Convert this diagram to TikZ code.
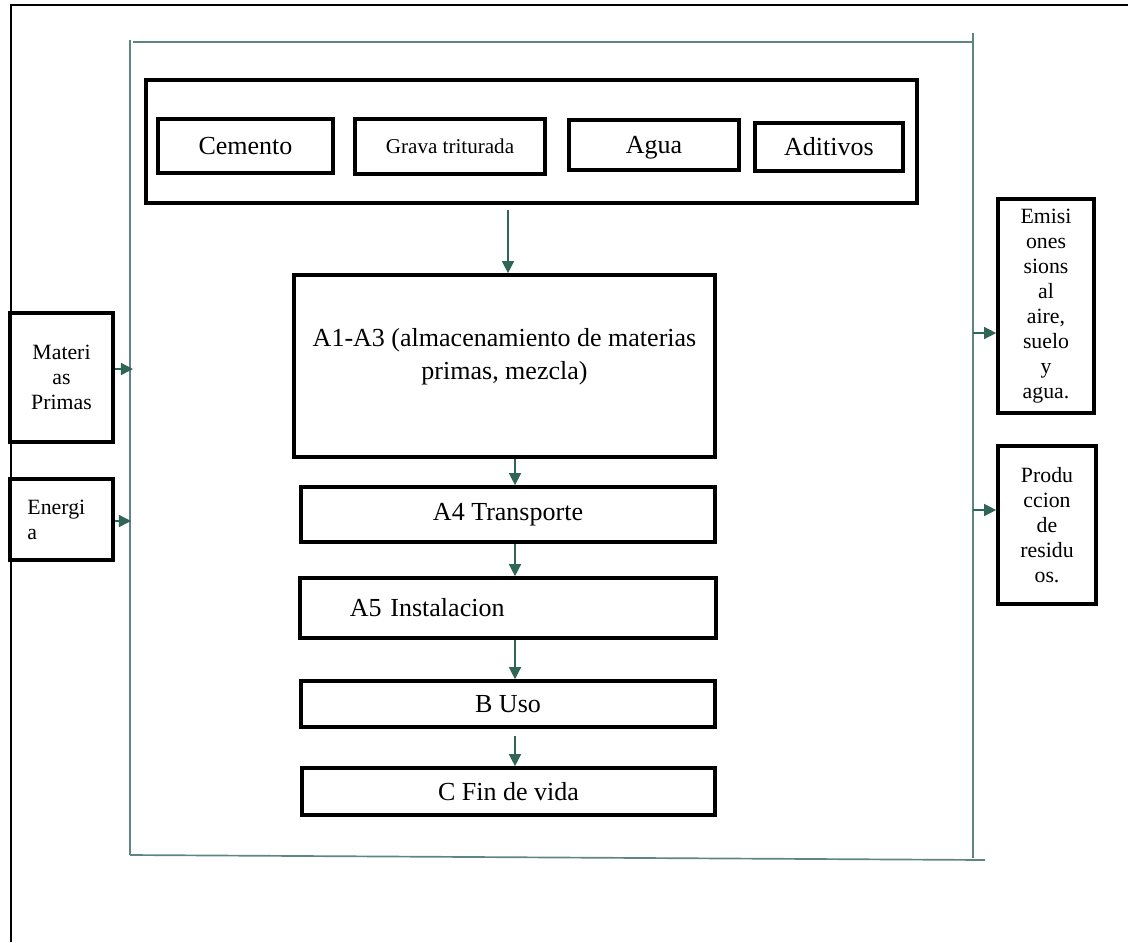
\documentclass[tikz,border=0pt]{standalone}
\usepackage{fontspec}
\setmainfont{Liberation Serif}
\usetikzlibrary{arrows.meta,calc,positioning}
\definecolor{flecha}{HTML}{2F6657}
\definecolor{marco}{HTML}{5E8580}
\tikzset{
  caja/.style = {
    draw=black,
    line width=2.6pt,
    inner sep=2pt,
    align=center,
    font=\fontsize{18.5}{23}\selectfont
  },
  lado/.style = {
    caja,
    font=\fontsize{15.5}{17.8}\selectfont
  },
  arc/.style = {
    ->,
    line width=1pt,
    color=flecha,
    >={Triangle[length=3mm,width=3mm]}
  },
  borde/.style = {
    line width=1.2pt,
    color=marco
  }
}

\begin{document}
\begin{tikzpicture}[x=0.025cm, y=-0.025cm]
		\useasboundingbox (0,0) rectangle (1128,942);
		% marco exterior y sistema
		\draw[line width=1pt] (11,942) -- (11,5) -- (1128,5);
		\draw[borde] (133,42) -- (973,42);
		\draw[borde] (130,40) -- (130,855);
		\draw[borde] (973,33) -- (973,858);
		\draw[borde] (130,855) -- (985,860);
%
		\node[caja, minimum width=19.275cm, minimum height=3.075cm] (grupo) at (531.5,141.5) {};
		\node[caja, minimum width=4.375cm, minimum height=1.35cm] (cemento) at (245.5,146) {Cemento};
		\node[caja, minimum width=4.75cm, minimum height=1.375cm, font=\fontsize{15}{18}\selectfont] (grava) at (450,146.5) {Grava triturada};
		\node[caja, minimum width=4.25cm, minimum height=1.25cm, text depth=0pt] (agua) at (654,145) {Agua};
		\node[caja, minimum width=3.7cm, minimum height=1.2cm] (aditivos) at (829,147) {Aditivos};
		
		\node[caja, minimum width=10.525cm, minimum height=4.55cm] (a13) at (504.5,366) {A1-A3 (almacenamiento de materias\\ primas, mezcla)\\[-6pt]\mbox{}};
		\node[caja, minimum width=10.35cm, minimum height=1.375cm] (a4) at (508,514.5) {A4 Transporte};
		\node[caja, minimum width=10.4cm, minimum height=1.5cm, text width=7.9cm, inner xsep=1.25cm, align=left] (a5) at (508,608) {A5 Instalacion};
		\node[caja, minimum width=10.35cm, minimum height=1.15cm] (buso) at (508,704) {B Uso};
		\node[caja, minimum width=10.325cm, minimum height=1.175cm] (cfin) at (508.5,791.5) {C Fin de vida};
%		
		\node[lado, minimum width=2.575cm, minimum height=3.225cm] (materias) at (61.5,377.5) {Materi\\as\\Primas};
		\node[lado, minimum width=2.575cm, minimum height=2.025cm, text width=1.7cm, align=left] (energia) at (61.5,519.5) {Energi\\a};
		\node[lado, minimum width=2.4cm, minimum height=5.35cm] (emisiones) at (1046,306) {Emisi\\ones\\sions\\al\\aire,\\suelo\\y\\agua.};
		\node[lado, minimum width=2.45cm, minimum height=3.95cm] (produccion) at (1047,525) {Produ\\ccion\\de\\residu\\os.};
		
		\coordinate (g1) at (508,210);
		\coordinate (col) at (515,0);
		\coordinate (mL) at (133,369);
		\coordinate (eL) at (131,521);
		\coordinate (eR) at (973,333);
		\coordinate (pR) at (973,510);
		
		\path[arc]   (g1) edge    (g1 |- a13.north);
		\path[arc]   (a13.south -| col) edge    (a4.north -| col);
		\path[arc]   (a4.south -| col) edge    (a5.north -| col);
		\path[arc]   (a5.south -| col) edge    (buso.north -| col);
		\path[arc, shorten <=5pt]   (buso.south -| col) edge    (cfin.north -| col);
		
		\path[arc]   (materias.east |- mL) edge    (mL);
		\path[arc]   (energia.east |- eL) edge    (eL);
		\path[arc]   (eR) edge    (eR -| emisiones.west);
		\path[arc]   (pR) edge    (pR -| produccion.west);
	\end{tikzpicture}
\end{document}
